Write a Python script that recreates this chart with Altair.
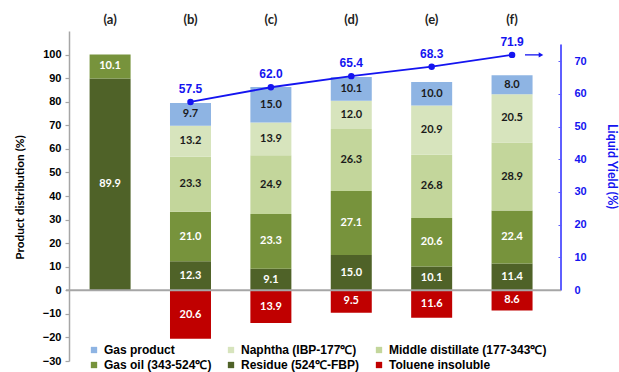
import altair as alt
import pandas as pd

# Sample labels along the top axis
categories = ["(a)", "(b)", "(c)", "(d)", "(e)", "(f)"]

# Product distribution (%) for each sample, bottom to top of the stack
residue = [89.9, 12.3, 9.1, 15.0, 10.1, 11.4]
gas_oil = [10.1, 21.0, 23.3, 27.1, 20.6, 22.4]
middle_distillate = [None, 23.3, 24.9, 26.3, 26.8, 28.9]
naphtha = [None, 13.2, 13.9, 12.0, 20.9, 20.5]
gas_product = [None, 9.7, 15.0, 10.1, 10.0, 8.0]
# Drawn below zero
toluene_insoluble = [None, 20.6, 13.9, 9.5, 11.6, 8.6]

# Liquid yield (%) on the right axis
liquid_yield = [None, 57.5, 62.0, 65.4, 68.3, 71.9]

series_names = [
    "Gas product",
    "Naphtha (IBP-177℃)",
    "Middle distillate (177-343℃)",
    "Gas oil (343-524℃)",
    "Residue (524℃-FBP)",
    "Toluene insoluble",
]
series_colors = ["#8EB4E3", "#D7E4BD", "#C3D69B", "#77933C", "#4F6228", "#C00000"]

BLUE = "#1414F0"
FONT = "Liberation Sans"
LABEL_FONT = "Lato"

# Build the stacked segments (positive stack upward, toluene insoluble downward)
stack_order = [
    ("Residue (524℃-FBP)", residue, "white"),
    ("Gas oil (343-524℃)", gas_oil, "white"),
    ("Middle distillate (177-343℃)", middle_distillate, "#1a1a1a"),
    ("Naphtha (IBP-177℃)", naphtha, "#1a1a1a"),
    ("Gas product", gas_product, "#1a1a1a"),
]
rows = []
for i, cat in enumerate(categories):
    base = 0.0
    for name, values, tcolor in stack_order:
        v = values[i]
        if v is None:
            continue
        rows.append(dict(sample=cat, series=name, value=v, y0=base, y1=base + v,
                         mid=base + v / 2, label=f"{v:.1f}", tcolor=tcolor))
        base += v
    t = toluene_insoluble[i]
    if t is not None:
        rows.append(dict(sample=cat, series="Toluene insoluble", value=t, y0=0.0, y1=-t,
                         mid=-t / 2, label=f"{t:.1f}", tcolor="white"))
bars_df = pd.DataFrame(rows)

yield_df = pd.DataFrame(
    [dict(sample=c, yld=v, label=f"{v:.1f}") for c, v in zip(categories, liquid_yield) if v is not None]
)
last_df = yield_df.tail(1)

x_enc = alt.X(
    "sample:N",
    sort=categories,
    scale=alt.Scale(domain=categories, paddingInner=0.49, paddingOuter=0.305, align=0.42),
    axis=alt.Axis(orient="top", title=None, domain=False, ticks=False, labelAngle=0,
                  labelFont=LABEL_FONT, labelFontWeight="bold", labelFontSize=13,
                  labelColor="#222222", labelPadding=5),
)

y_left = alt.Scale(domain=[-30, 110], nice=False, zero=False)
y_right = alt.Scale(domain=[-21.7, 79.2], nice=False, zero=False)

left_axis = alt.Axis(
    values=list(range(-30, 101, 10)), grid=False, labelOverlap=False,
    domainColor="#A6A6A6", domainWidth=1.5, tickColor="#A6A6A6", tickSize=4, tickWidth=1.2,
    labelFont=FONT, labelFontWeight="bold", labelFontSize=11, labelColor="black", labelPadding=4,
    title="Product distribution (%)", titleFont=LABEL_FONT, titleFontSize=11.8,
    titleFontWeight="bold", titleColor="black", titleX=-44, titleY=166, titleAngle=270,
)

bars = alt.Chart(bars_df).mark_bar().encode(
    x=x_enc,
    y=alt.Y("y0:Q", scale=y_left, axis=left_axis),
    y2="y1:Q",
    fill=alt.Fill(
        "series:N",
        scale=alt.Scale(domain=series_names, range=series_colors),
        legend=alt.Legend(title=None, orient="none", legendX=19, legendY=313, columns=3,
                          direction="horizontal", symbolType="square", symbolSize=40,
                          symbolStrokeWidth=0, labelFont=FONT, labelFontSize=12,
                          labelFontWeight="bold", labelColor="black", labelOffset=4,
                          columnPadding=13, rowPadding=3, padding=0),
    ),
)

bar_text = alt.Chart(bars_df).mark_text(
    font=LABEL_FONT, fontWeight="bold", fontSize=11, baseline="middle"
).encode(
    x=alt.X("sample:N", sort=categories),
    y=alt.Y("mid:Q", scale=y_left, axis=left_axis),
    text="label:N",
    color=alt.Color("tcolor:N", scale=None),
)

# Baseline at zero across the plot
zero_line = (
    alt.Chart(bars_df)
    .transform_aggregate(n="count()")
    .transform_calculate(zero="0")
    .mark_rule(color="#A6A6A6", strokeWidth=2)
    .encode(y=alt.Y("zero:Q", scale=y_left, axis=left_axis), x=alt.value(-3), x2=alt.value(492))
)

left_layer = alt.layer(bars, zero_line, bar_text)

right_axis = alt.Axis(
    orient="right", values=list(range(0, 71, 10)), grid=False, domain=False, offset=-3,
    labelOverlap=False, tickColor="#5B5BFF", tickSize=3, tickWidth=1,
    labelFont=FONT, labelFontWeight="bold", labelFontSize=11, labelColor=BLUE, labelPadding=13,
    title="Liquid Yield (%)", titleFont=LABEL_FONT, titleFontSize=12.5, titleFontWeight="bold",
    titleColor=BLUE, titleX=46, titleY=135, titleAngle=90,
)

yield_line = alt.Chart(yield_df).mark_line(color=BLUE, strokeWidth=1.8).encode(
    x=alt.X("sample:N", sort=categories),
    y=alt.Y("yld:Q", scale=y_right, axis=right_axis),
)
yield_points = alt.Chart(yield_df).mark_circle(color=BLUE, size=42, opacity=1).encode(
    x=alt.X("sample:N", sort=categories), y=alt.Y("yld:Q", scale=y_right, axis=right_axis)
)
yield_labels = alt.Chart(yield_df).mark_text(
    color=BLUE, font=FONT, fontWeight="bold", fontSize=12, dy=-13
).encode(
    x=alt.X("sample:N", sort=categories),
    y=alt.Y("yld:Q", scale=y_right, axis=right_axis),
    text="label:N",
)

# Right axis spine, drawn only over the 0-75 range
right_spine = alt.Chart(yield_df).mark_rule(color="#5B5BFF", strokeWidth=1).encode(
    x=alt.value(492), y=alt.datum(0, scale=y_right), y2=alt.datum(75)
)

# Arrow pointing from the yield line toward the right axis
arrow_shaft = alt.Chart(last_df).mark_rule(color=BLUE, strokeWidth=1.3).encode(
    x=alt.value(456), x2=alt.value(470), y=alt.Y("yld:Q", scale=y_right, axis=right_axis)
)
arrow_head = alt.Chart(last_df).mark_point(
    shape="triangle-right", filled=True, color=BLUE, size=28, opacity=1
).encode(x=alt.value(472), y=alt.Y("yld:Q", scale=y_right, axis=right_axis))

right_layer = alt.layer(yield_line, yield_points, yield_labels, right_spine, arrow_shaft, arrow_head)

chart = (
    alt.layer(left_layer, right_layer)
    .resolve_scale(y="independent")
    .properties(
        width=492, height=330,
        padding={"left": 69, "top": 31, "right": 58, "bottom": 11},
        autosize=alt.AutoSizeParams(type="none"),
        background="white",
    )
    .configure_view(stroke=None)
    .configure_axis(labelOverlap=False)
)

chart.save("out.html", embed_options={"renderer": "svg", "actions": False})
